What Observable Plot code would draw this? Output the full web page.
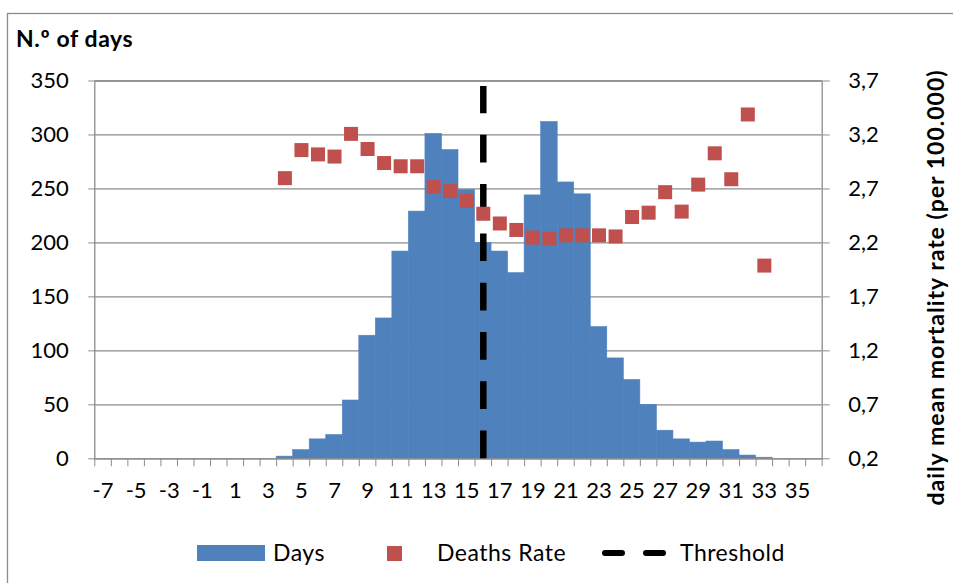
<!DOCTYPE html>
<html><head><meta charset="utf-8">
<script src="https://cdn.jsdelivr.net/npm/d3@7"></script>
<script src="https://cdn.jsdelivr.net/npm/@observablehq/plot@0.6"></script>
<style>
html,body{margin:0;padding:0;background:#fff;}
#chart{width:953px;height:583px;overflow:hidden;}
</style></head><body><div id="chart"></div>
<script>
// categories: temperature-like class values on the x axis
const categories = [-7,-6,-5,-4,-3,-2,-1,0,1,2,3,4,5,6,7,8,9,10,11,12,13,14,15,16,17,18,19,20,21,22,23,24,25,26,27,28,29,30,31,32,33,34,35,36];
// N.º of days per category
const daysValues = [0,0,0,0,0,0,0,0,0,0,0,2,8,18,22,54,114,130,192,229,301,286,249,200,192,172,244,312,256,245,122,93,73,50,26,18,15,16,8,3,1,0,0,0];
// daily mean mortality rate (per 100.000); null where no value
const rateValues = [null,null,null,null,null,null,null,null,null,null,null,2.80,3.06,3.02,3.00,3.21,3.07,2.94,2.91,2.91,2.72,2.68,2.59,2.47,2.38,2.32,2.25,2.24,2.27,2.27,2.27,2.26,2.44,2.48,2.67,2.49,2.74,3.03,2.79,3.39,1.99,null,null,null];
const thresholdX = [16];
const thresholdTop = 345;
const xTickLabels = [-7,-5,-3,-1,1,3,5,7,9,11,13,15,17,19,21,23,25,27,29,31,33,35];
const daysTicks = [0,50,100,150,200,250,300,350];
const rateMin = 0.2, rateMax = 3.7;
const daysMax = 350;
const seriesNames = ["Days", "Deaths Rate", "Threshold"];

const blue = "#4F81BD", red = "#C0504D", grey = "#8c8c8c";
const toDays = r => (r - rateMin) / (rateMax - rateMin) * daysMax;
const toRate = d => rateMin + d / daysMax * (rateMax - rateMin);

const data = categories.map((c, i) => ({day: c, days: daysValues[i], rate: rateValues[i]}));
const rateData = data.filter(d => d.rate != null);
const boundaries = categories.map(c => c - 0.5).concat([categories[categories.length - 1] + 0.5]);
const threshold = thresholdX.map(x => ({day: x, top: thresholdTop}));

const plot = Plot.plot({
  width: 953, height: 583,
  marginLeft: 94.3, marginRight: 131.3, marginTop: 80.5, marginBottom: 124.7,
  style: {fontFamily: "Lato", fontSize: "22px", color: "#000", background: "#fff"},
  x: {domain: [boundaries[0], boundaries[boundaries.length - 1]]},
  y: {domain: [0, daysMax]},
  marks: [
    Plot.gridY(daysTicks, {stroke: grey, strokeOpacity: 1, strokeWidth: 1.3}),
    Plot.rectY(data, {x1: d => d.day - 0.5, x2: d => d.day + 0.5, y: "days", fill: blue, stroke: blue, strokeWidth: 0.6}),
    Plot.frame({stroke: grey, strokeWidth: 1.3}),
    Plot.ruleX(threshold, {x: "day", y1: () => 0, y2: "top", stroke: "#000", strokeWidth: 6.5, strokeDasharray: "27.7 21.6"}),
    Plot.dot(rateData, {x: "day", y: d => toDays(d.rate), symbol: "square", r: 7.9, fill: red}),
    Plot.axisY(daysTicks, {anchor: "left", tickSize: 6, tickPadding: 20, stroke: grey, fill: "#000", label: null}),
    Plot.axisY(daysTicks, {anchor: "right", tickSize: 7, tickPadding: 19, stroke: grey, fill: "#000", label: null,
      tickFormat: d => toRate(d).toFixed(1).replace(".", ",")}),
    Plot.axisX(boundaries, {anchor: "bottom", tickSize: 8, tickFormat: () => "", stroke: grey, label: null}),
    Plot.axisX(xTickLabels, {anchor: "bottom", tickSize: 0, tickPadding: 24, fill: "#000", label: null,
      tickFormat: d => String(d)})
  ]
});
document.getElementById("chart").appendChild(plot);

const svg = d3.select(plot);
// chart area border
svg.append("rect").attr("x", 7.5).attr("y", 13.5).attr("width", 1000).attr("height", 1000)
  .attr("fill", "none").attr("stroke", grey).attr("stroke-width", 1.3);
// left title
svg.append("text").attr("x", 16).attr("y", 47).attr("text-anchor", "start").attr("font-weight", "bold")
  .attr("font-size", 23).attr("letter-spacing", 0.6).attr("font-family", "Lato").attr("fill", "#000").text("N.º of days");
// right title
svg.append("text").attr("transform", "translate(944,287.5) rotate(-90)").attr("text-anchor", "middle")
  .attr("font-weight", "bold").attr("font-size", 23).attr("letter-spacing", 1).attr("font-family", "Lato").attr("fill", "#000")
  .text("daily mean mortality rate (per 100.000)");
// legend
const lg = svg.append("g").attr("font-family", "Lato").attr("font-size", 23).attr("letter-spacing", 0.5)
  .attr("fill", "#000").attr("text-anchor", "start");
lg.append("rect").attr("x", 197).attr("y", 545).attr("width", 68).attr("height", 16).attr("fill", blue);
lg.append("text").attr("x", 273).attr("y", 561).text(seriesNames[0]);
lg.append("rect").attr("x", 387).attr("y", 546).attr("width", 15).attr("height", 15).attr("fill", red);
lg.append("text").attr("x", 437).attr("y", 561).text(seriesNames[1]);
lg.append("line").attr("x1", 605).attr("x2", 663).attr("y1", 553).attr("y2", 553)
  .attr("stroke", "#000").attr("stroke-width", 6).attr("stroke-linecap", "round").attr("stroke-dasharray", "17 24");
lg.append("text").attr("x", 680).attr("y", 561).text(seriesNames[2]);
</script>
</body></html>
